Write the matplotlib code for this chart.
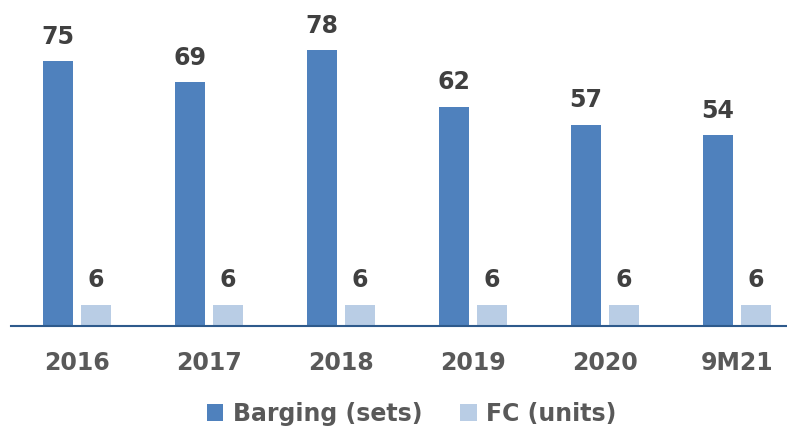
import numpy as np
import matplotlib.pyplot as plt

years = ["2016", "2017", "2018", "2019", "2020", "9M21"]
barging = [75, 69, 78, 62, 57, 54]
fc = [6, 6, 6, 6, 6, 6]

plt.rcParams['font.family'] = ['DejaVu Sans']

fig = plt.figure(figsize=(7.87, 4.28), dpi=100)
ax = fig.add_axes([11 / 787, 102 / 428, 776 / 787, 318 / 428])

x = np.arange(len(years))
w = 0.225
b1 = ax.bar(x - 0.144, barging, w, color="#4F81BD", label="Barging (sets)")
b2 = ax.bar(x + 0.144, fc, w, color="#B9CDE5", label="FC (units)")

for bars in (b1, b2):
    for r in bars:
        ax.annotate(f"{r.get_height():.0f}", (r.get_x() + r.get_width() / 2, r.get_height()),
                    xytext=(0, 9), textcoords="offset points", ha="center", va="bottom",
                    fontsize=17, fontweight="bold", color="#404040")

ax.set_xlim(-0.5, -0.5 + 776 / 132)
ax.set_ylim(0, 90)
ax.set_xticks(x)
ax.set_xticklabels(years, fontsize=17, fontweight="bold", color="#595959")
ax.tick_params(axis="x", length=0, pad=18)
ax.set_yticks([])
for s in ["top", "right", "left"]:
    ax.spines[s].set_visible(False)
ax.spines["bottom"].set_color("#2E5A8C")
ax.spines["bottom"].set_linewidth(1.5)

leg = fig.legend(handles=[b1, b2], loc="center", bbox_to_anchor=(0.523, 0.033), ncol=2,
                 frameon=False, handlelength=0.7, handleheight=0.7, columnspacing=1.6,
                 handletextpad=0.4, prop={"size": 17, "weight": "bold"})
for t in leg.get_texts():
    t.set_color("#595959")

fig.savefig("out.png", dpi=100)
